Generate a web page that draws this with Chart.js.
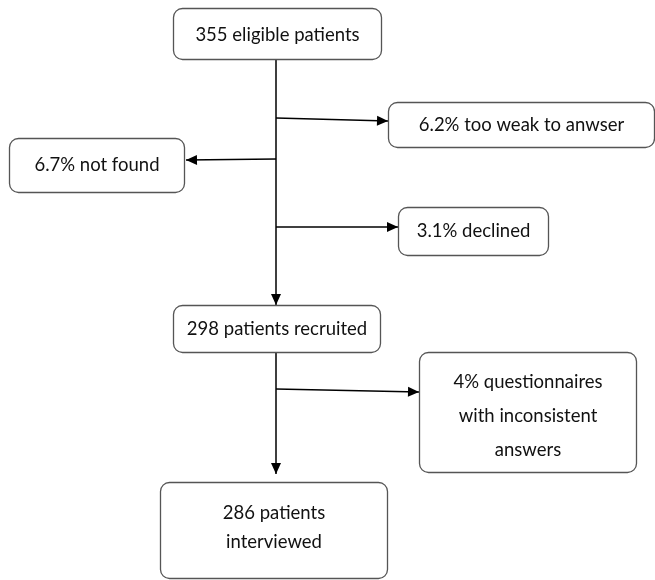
<!DOCTYPE html>
<html>
<head>
<meta charset="utf-8">
<title>Patient flow</title>
<script src="https://cdn.jsdelivr.net/npm/chart.js@4.4.1/dist/chart.umd.min.js"></script>
<style>
  html, body { margin: 0; padding: 0; background: #fff; }
  #wrap { width: 655px; height: 580px; }
</style>
</head>
<body>
<div id="wrap"><canvas id="flow" width="655" height="580"></canvas></div>
<script>
// boxes of the flow diagram (plot units = pixels of the original figure)
const boxLabels = [
  ["355 eligible patients"],
  ["6.2% too weak to anwser"],
  ["6.7% not found"],
  ["3.1% declined"],
  ["298 patients recruited"],
  ["4% questionnaires", "with inconsistent", "answers"],
  ["286 patients", "interviewed"]
];
const boxLeft   = [173, 388, 9,   398, 173, 419, 160];
const boxRight  = [382, 655, 185, 549, 381, 637, 388];
const boxTop    = [8,   102, 138, 207, 305, 352, 482];
const boxBottom = [60,  148, 193, 256, 353, 473, 579];

// connectors: start point -> end point, arrow at the end (or none)
const edgeX1 = [276, 276, 276, 276, 276, 276, 276];
const edgeY1 = [60,  118, 159, 227, 60,  353, 389];
const edgeX2 = [276, 388, 186, 398, 276, 276, 419];
const edgeY2 = [60,  121, 160, 227, 305, 474, 392];
const edgeArrow = [false, true, true, true, true, true, true];

const lineColor = "#000";
const boxBorder = "#555";
const fontFamily = "Lato, 'Open Sans', sans-serif";
const textShift = [1, 0, 0, 0, 0, 4, -3];

const edgeSets = edgeX1.map((x, i) => ({
  data: [{ x: x, y: edgeY1[i] }, { x: edgeX2[i], y: edgeY2[i] }],
  showLine: true,
  borderColor: lineColor,
  borderWidth: 1.5,
  pointRadius: 0,
  arrow: edgeArrow[i]
}));

const flowPlugin = {
  id: "flow",
  afterDatasetsDraw(chart) {
    const ctx = chart.ctx;
    const xs = chart.scales.x, ys = chart.scales.y;

    // arrow heads
    chart.data.datasets.forEach(ds => {
      if (!ds.arrow) return;
      const a = ds.data[0], b = ds.data[1];
      const x1 = xs.getPixelForValue(a.x), y1 = ys.getPixelForValue(a.y);
      const x2 = xs.getPixelForValue(b.x), y2 = ys.getPixelForValue(b.y);
      const ang = Math.atan2(y2 - y1, x2 - x1);
      const len = 11, half = 5;
      ctx.save();
      ctx.fillStyle = lineColor;
      ctx.beginPath();
      ctx.moveTo(x2, y2);
      ctx.lineTo(x2 - len * Math.cos(ang) - half * Math.sin(ang), y2 - len * Math.sin(ang) + half * Math.cos(ang));
      ctx.lineTo(x2 - len * Math.cos(ang) + half * Math.sin(ang), y2 - len * Math.sin(ang) - half * Math.cos(ang));
      ctx.closePath();
      ctx.fill();
      ctx.restore();
    });

    // boxes
    boxLabels.forEach((lines, i) => {
      const l = xs.getPixelForValue(boxLeft[i]) + 0.5;
      const r = xs.getPixelForValue(boxRight[i]) - 0.5;
      const t = ys.getPixelForValue(boxTop[i]) + 0.5;
      const b = ys.getPixelForValue(boxBottom[i]) - 0.5;
      ctx.save();
      ctx.beginPath();
      ctx.roundRect(l, t, r - l, b - t, 9);
      ctx.fillStyle = "#fff";
      ctx.fill();
      ctx.lineWidth = 1.3;
      ctx.strokeStyle = boxBorder;
      ctx.stroke();

      ctx.fillStyle = "#111";
      ctx.font = "18.5px " + fontFamily;
      ctx.textAlign = "center";
      ctx.textBaseline = "middle";
      const lh = lines.length > 2 ? 34 : 29;
      const cx = (l + r) / 2, cy = (t + b) / 2 + textShift[i];
      lines.forEach((txt, k) => {
        ctx.fillText(txt, cx, cy + (k - (lines.length - 1) / 2) * lh);
      });
      ctx.restore();
    });
  }
};

new Chart(document.getElementById("flow"), {
  type: "scatter",
  data: { datasets: edgeSets },
  options: {
    responsive: false,
    animation: false,
    layout: { padding: 0 },
    plugins: { legend: { display: false }, tooltip: { enabled: false } },
    scales: {
      x: { type: "linear", min: 0, max: 655, display: false },
      y: { type: "linear", min: 0, max: 580, reverse: true, display: false }
    }
  },
  plugins: [flowPlugin]
});
</script>
</body>
</html>
